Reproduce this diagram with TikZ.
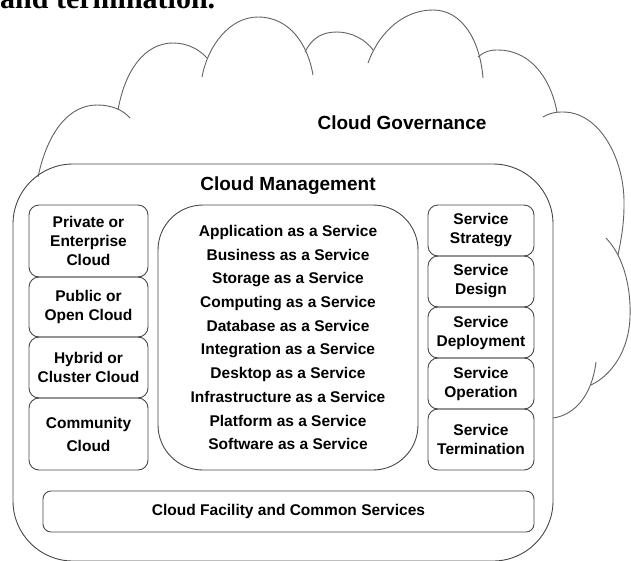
\documentclass[tikz,border=0pt]{standalone}
\usepackage{fontspec}
\setsansfont{Liberation Sans}
\newfontfamily\bookfont{Liberation Serif}
\tikzset{
	cloudline/.style={line width=0.9pt, color=black!62},
	boxline/.style={draw=black!72, line width=0.9pt},
	itembox/.style={boxline, rounded corners=10pt, inner sep=0pt, align=center,
		font=\sffamily\bfseries\fontsize{15.5}{19}\selectfont},
	leftbox/.style={itembox, minimum width=119pt},
	rightbox/.style={itembox, minimum width=106pt},
	titletext/.style={font=\sffamily\bfseries\fontsize{19}{23}\selectfont},
}

\begin{document}
\begin{tikzpicture}[x=1pt, y=-1pt]
		%%%%% START %%%%%
		\useasboundingbox (0,0) rectangle (631,560);
		\clip (0,0) rectangle (631,560);
		
		\node[anchor=base west, inner sep=0pt, font=\bookfont\bfseries\fontsize{30}{30}\selectfont] (caption) at (0,8) {and termination.};
		
		% governance cloud
		\draw[cloudline] (38,177) .. controls (48,130) and (70,105) .. (97,105) .. controls (112,105) and (123,110) .. (130,118);
		\draw[cloudline] (118,110) .. controls (125,70) and (145,43) .. (173,43) .. controls (188,43) and (200,50) .. (207,58);
		\draw[cloudline] (202,77) .. controls (208,45) and (230,17) .. (258,17) .. controls (290,17) and (308,45) .. (313,75);
		\draw[cloudline] (305,52) .. controls (312,38) and (322,32) .. (337,32) .. controls (352,32) and (366,40) .. (373,50);
		\draw[cloudline] (368,63) .. controls (380,30) and (405,10) .. (433,10) .. controls (462,10) and (480,40) .. (483,78);
		\draw[cloudline] (478,57) .. controls (485,51) and (490,50) .. (498,50) .. controls (528,50) and (550,75) .. (557,112);
		\draw[cloudline] (543,117) .. controls (550,113) and (555,112) .. (563,112) .. controls (600,112) and (625,160) .. (624,205) .. controls (624,225) and (621,240) .. (618,255);
		\draw[cloudline] (606,238) .. controls (625,258) and (631,290) .. (630,317) .. controls (629,350) and (612,375) .. (591,385);
		\draw[cloudline] (596,362) .. controls (592,395) and (575,415) .. (553,418);
		
		\node[titletext, anchor=base] (govlabel) at (402,129) {Cloud Governance};
		
		% management
		\node[boxline, rounded corners=60pt, minimum width=540pt, minimum height=397pt, inner sep=0pt] (mgmt) at (283,362.5) {};
		\node[titletext, anchor=base] (mgmtlabel) at (288,190) {Cloud Management};
		
		\node[leftbox, minimum height=72pt] (private) at (88.5,241) {Private or\\Enterprise\\Cloud};
		\node[leftbox, minimum height=60pt] (public) at (88.5,307) {Public or\\Open Cloud};
		\node[leftbox, minimum height=61pt] (hybrid) at (88.5,367.5) {Hybrid or\\Cluster Cloud};
		\node[leftbox, minimum height=72pt] (community) at (88.5,434) {Community\\[4pt]Cloud};
		
		\node[itembox, rounded corners=45pt, minimum width=260pt, minimum height=265pt,
			font=\sffamily\bfseries\fontsize{15.5}{23.7}\selectfont] (services) at (288,337.5)
			{Application as a Service\\Business as a Service\\Storage as a Service\\Computing as a Service\\Database as a Service\\Integration as a Service\\Desktop as a Service\\Infrastructure as a Service\\Platform as a Service\\Software as a Service};
		
		\node[rightbox, minimum height=51pt] (strategy) at (481,230.5) {Service\\Strategy};
		\node[rightbox, minimum height=51pt] (design) at (481,281.5) {Service\\Design};
		\node[rightbox, minimum height=51pt] (deployment) at (481,332.5) {Service\\Deployment};
		\node[rightbox, minimum height=51pt] (operation) at (481,383.5) {Service\\Operation};
		\node[rightbox, minimum height=61pt] (termination) at (481,439.5) {Service\\Termination};
		
		\node[itembox, rounded corners=8pt, minimum width=491pt, minimum height=41pt] (facility) at (288.5,511.5) {Cloud Facility and Common Services};
		
		%%%%% END %%%%%
\end{tikzpicture}
\end{document}
